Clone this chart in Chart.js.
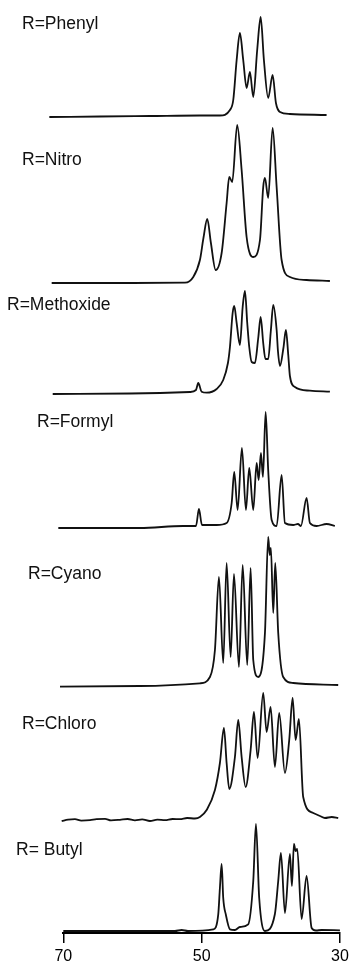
<!DOCTYPE html>
<html>
<head>
<meta charset="utf-8">
<script src="https://cdn.jsdelivr.net/npm/chart.js@4.4.1/dist/chart.umd.min.js"></script>
<style>
  html, body { margin: 0; padding: 0; background: #fff; }
  #wrap { position: relative; width: 351px; height: 965px; }
  #wrap canvas { position: absolute; left: 0; top: 0; }
  .lbl { position: absolute; font-family: "Liberation Sans", Arial, sans-serif; font-size: 17.5px; line-height: 20px; color: #111; white-space: nowrap; }
</style>
</head>
<body>
<div id="wrap"><canvas id="c" width="351" height="965"></canvas></div>
<script>
// ---- Data (chemical shift in ppm, intensity in arbitrary units) ----
const spectrumLabels = ["R=Phenyl", "R=Nitro", "R=Methoxide", "R=Formyl", "R=Cyano", "R=Chloro", "R= Butyl"];
const tickValues = [70, 50, 30];

const phenylPpm = [72.02, 64.70, 57.47, 50.25, 47.36, 45.91, 45.43, 44.94, 44.47, 43.99, 43.50, 43.02, 42.54, 41.97, 41.47, 41.00, 40.38, 39.74, 39.26, 38.68, 37.24, 31.94];
const phenylInt = [-1, -0.5, 0, 0.5, 0.5, 6, 16, 56, 83, 56, 28, 44, 19, 66, 99, 56, 18, 41, 13, 4, 2, 1];

const nitroPpm = [71.68, 61.81, 52.41, 51.21, 50.25, 49.74, 49.19, 48.66, 47.98, 47.11, 46.39, 46.01, 45.58, 44.86, 44.22, 43.50, 42.54, 41.57, 41.10, 40.85, 40.38, 39.74, 39.16, 38.44, 37.24, 34.83, 31.46];
const nitroInt = [0, 0, 0.3, 6, 23, 45, 64, 40, 13, 30, 80, 106, 101, 158, 113, 46, 26, 43, 96, 105, 85, 155, 96, 23, 6, 3, 2];

const methoxidePpm = [71.53, 60.36, 51.69, 50.82, 50.49, 50.00, 49.28, 47.83, 46.88, 46.20, 45.91, 45.52, 45.29, 44.94, 44.47, 44.07, 43.74, 43.41, 43.12, 42.77, 42.30, 41.82, 41.47, 41.10, 40.78, 40.38, 39.99, 39.65, 39.16, 38.97, 38.68, 38.18, 37.82, 37.48, 37.24, 36.52, 34.35, 31.46];
const methoxideInt = [-1, -0.5, 1, 3, 10, 1.3, 0.3, 4, 13, 30, 46, 80, 87, 70, 48, 86, 102, 70, 46, 31, 30, 55, 76, 50, 34, 34, 63, 88, 63, 42, 27, 45, 63, 38, 17, 6, 2.3, 1.3];

const formylPpm = [70.72, 58.92, 52.70, 50.82, 50.39, 49.96, 47.83, 46.39, 45.66, 45.29, 44.80, 44.18, 43.60, 43.12, 42.54, 42.05, 41.76, 41.43, 41.14, 40.75, 40.38, 39.88, 39.16, 38.44, 37.96, 36.76, 36.08, 35.65, 34.83, 34.35, 33.38, 31.94, 30.74];
const formylInt = [0, 0, 2, 2, 19, 3, 3, 5, 25, 56, 18, 80, 18, 60, 18, 65, 48, 75, 51, 116, 58, 8, 2, 53, 5, 3, 4, 2, 30, 5, 2, 4, 2];

const cyanoPpm = [70.48, 58.92, 50.25, 48.80, 48.08, 47.50, 46.88, 46.39, 45.81, 45.33, 44.61, 44.07, 43.41, 42.92, 42.54, 41.82, 40.85, 40.38, 40.16, 39.99, 39.65, 39.36, 38.93, 38.21, 36.76, 30.26];
const cyanoInt = [-0.7, 0, 2.7, 9, 36, 109, 23, 123, 29, 112, 19, 121, 21, 118, 26, 9, 53, 149, 131, 138, 73, 123, 53, 9, 3, 1];

const chloroPpm = [70.23, 69.31, 68.31, 67.40, 66.14, 65.20, 63.97, 63.10, 61.81, 60.70, 59.64, 58.60, 57.47, 56.40, 55.30, 54.20, 53.14, 52.10, 50.97, 50.25, 49.28, 48.08, 47.36, 46.78, 46.39, 46.01, 45.19, 44.71, 44.22, 43.64, 42.92, 42.44, 41.91, 41.10, 40.61, 40.03, 39.41, 38.79, 37.96, 37.34, 36.85, 36.42, 35.94, 35.32, 33.87, 32.90, 32.18, 31.20, 30.26];
const chloroInt = [-1, 0.3, 0.8, -0.6, -0.2, 0.9, 1.2, -0.4, 0.2, 1, -0.3, 0.6, -1, 0.4, -0.2, 1, 0.8, 2, 1.5, 3, 10, 30, 57, 92, 57, 31, 63, 100, 63, 33, 70, 108, 62, 127, 88, 113, 53, 107, 47, 80, 122, 80, 101, 23, 7, 4, 2, 3, 2];

const butylPpm = [70.00, 60.36, 53.86, 52.89, 51.98, 48.32, 47.60, 47.36, 47.11, 46.88, 46.49, 45.91, 45.19, 44.47, 43.27, 42.54, 42.15, 41.68, 40.85, 39.41, 38.93, 38.54, 37.96, 37.24, 36.95, 36.66, 36.42, 36.18, 35.55, 34.83, 34.10, 33.48, 32.66, 30.01];
const butylInt = [0, 0, 0, 1, 0, 1.7, 16.7, 43, 67, 33, 16, 1.7, 1, 4, 6.7, 50, 107, 33, 0, 17, 50, 78, 18, 77, 45, 87, 80, 82, 12, 55, 3, 0.5, 1, 0.7];

// ---- Layout (vertical stacking offsets of each trace, label placement) ----
const traceOffsets = [817, 650, 540, 405, 247, 113, 2];
const labelPos = [[22, 13], [22, 149], [7, 294], [37, 411], [28, 563], [22, 713], [16, 839]];

const series = [
  [phenylPpm, phenylInt], [nitroPpm, nitroInt], [methoxidePpm, methoxideInt],
  [formylPpm, formylInt], [cyanoPpm, cyanoInt], [chloroPpm, chloroInt], [butylPpm, butylInt]
];

const datasets = series.map(([ppm, inten], k) => ({
  label: spectrumLabels[k],
  data: ppm.map((x, i) => ({ x: x, y: traceOffsets[k] + inten[i] })),
  borderColor: '#111',
  borderWidth: 1.8,
  pointRadius: 0,
  fill: false,
  clip: false,
  cubicInterpolationMode: 'monotone'
}));

const wrap = document.getElementById('wrap');
spectrumLabels.forEach((t, k) => {
  const d = document.createElement('div');
  d.className = 'lbl';
  d.textContent = t;
  d.style.left = labelPos[k][0] + 'px';
  d.style.top = labelPos[k][1] + 'px';
  wrap.appendChild(d);
});

new Chart(document.getElementById('c'), {
  type: 'line',
  data: { datasets: datasets },
  options: {
    responsive: false,
    animation: false,
    devicePixelRatio: 1,
    layout: { padding: { left: 63.3, right: 11, top: 0, bottom: 0 } },
    plugins: { legend: { display: false }, tooltip: { enabled: false } },
    scales: {
      x: {
        type: 'linear',
        reverse: true,
        min: 30,
        max: 70,
        afterBuildTicks: (s) => { s.ticks = tickValues.map(v => ({ value: v })); },
        afterFit: (s) => { s.height = 32; s.paddingLeft = 0; s.paddingRight = 0; },
        grid: { display: true, drawOnChartArea: false, drawTicks: true, tickLength: 10, color: '#000', lineWidth: 1.5 },
        border: { display: true, color: '#000', width: 2 },
        ticks: {
          color: '#000',
          padding: 4,
          maxRotation: 0,
          font: { family: '"Liberation Sans", Arial, sans-serif', size: 16 },
          callback: (v) => String(v)
        }
      },
      y: {
        type: 'linear',
        display: false,
        min: 0,
        max: 933
      }
    }
  }
});
</script>
</body>
</html>
